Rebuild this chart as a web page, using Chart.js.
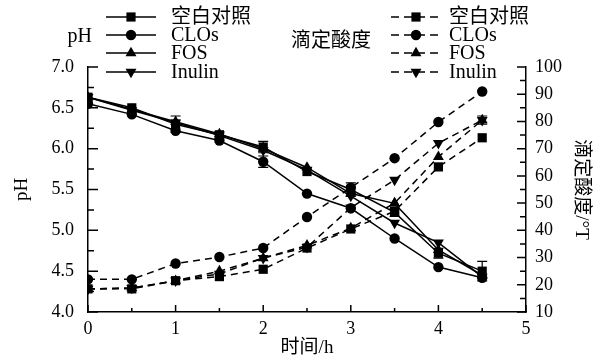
<!DOCTYPE html>
<html lang="zh">
<head>
<meta charset="UTF-8">
<title>pH 与滴定酸度</title>
<script src="https://cdn.jsdelivr.net/npm/chart.js"></script>
<style>
  html, body { margin: 0; padding: 0; background: #fff; }
  #wrap { width: 603px; height: 360px; }
</style>
</head>
<body>
<div id="wrap"><canvas id="myChart" width="603" height="360"></canvas></div>
<script>
// time points (h)
var times = [0, 0.5, 1, 1.5, 2, 2.5, 3, 3.5, 4, 4.5];
var groups = ['空白对照', 'CLOs', 'FOS', 'Inulin'];
var markers = ['rect', 'circle', 'triangle', 'triangle'];
var markerRot = [0, 0, 0, 180];
var markerSize = [6.5, 5.2, 6.3, 6.3];

// pH (left axis)
var phBlank  = [6.63, 6.50, 6.30, 6.17, 6.02, 5.72, 5.50, 5.22, 4.72, 4.50];
var phCLOs   = [6.55, 6.42, 6.22, 6.10, 5.84, 5.45, 5.27, 4.90, 4.55, 4.42];
var phFOS    = [6.63, 6.48, 6.33, 6.18, 6.00, 5.77, 5.45, 5.33, 4.76, 4.45];
var phInulin = [6.63, 6.47, 6.32, 6.16, 5.98, 5.74, 5.42, 5.09, 4.85, 4.43];
var phBlankErr = [0, 0, 0.1, 0.04, 0.07, 0, 0.08, 0.05, 0.06, 0.12];
var phCLOsErr  = [0, 0, 0, 0, 0.07, 0, 0, 0, 0, 0];

// titratable acidity (right axis, °T)
var taBlank  = [18.5, 18.5, 21.5, 23.0, 25.7, 33.5, 40.5, 47.0, 63.3, 74.0];
var taCLOs   = [22.0, 22.0, 27.8, 30.2, 33.5, 44.9, 55.7, 66.5, 79.8, 91.0];
var taFOS    = [18.5, 18.8, 21.5, 25.0, 29.8, 34.5, 40.8, 50.0, 67.0, 80.5];
var taInulin = [18.5, 18.8, 21.5, 24.0, 29.8, 33.8, 48.3, 58.5, 72.0, 80.5];
var taInulinErr = [0, 0, 0, 0, 0, 0, 0, 0, 0, 1.5];

var phTicks = [4.0, 4.5, 5.0, 5.5, 6.0, 6.5, 7.0];
var taTicks = [10, 20, 30, 40, 50, 60, 70, 80, 90, 100];

var FONT = "'Liberation Serif', 'Noto Sans CJK SC', serif";

function pts(ys) {
    return times.map(function(t, i) { return {x: t, y: ys[i]}; });
}

var phSets = [phBlank, phCLOs, phFOS, phInulin];
var taSets = [taBlank, taCLOs, taFOS, taInulin];
var phErrs = [phBlankErr, phCLOsErr, null, null];
var taErrs = [null, null, null, taInulinErr];

var datasets = [];
for (var i = 0; i < 4; i++) {
    datasets.push({
        label: groups[i], data: pts(phSets[i]), yAxisID: 'y', err: phErrs[i],
        borderColor: '#000', backgroundColor: '#000', borderWidth: 1.5,
        pointStyle: markers[i], pointRotation: markerRot[i], pointRadius: markerSize[i],
        pointBorderWidth: 0, tension: 0, fill: false
    });
}
for (var i = 0; i < 4; i++) {
    datasets.push({
        label: groups[i], data: pts(taSets[i]), yAxisID: 'y1', err: taErrs[i],
        borderColor: '#000', backgroundColor: '#000', borderWidth: 1.5, borderDash: [7, 5],
        pointStyle: markers[i], pointRotation: markerRot[i], pointRadius: markerSize[i],
        pointBorderWidth: 0, tension: 0, fill: false
    });
}

// inward ticks, error bars and the two hand-placed legends
var decor = {
    id: 'decor',
    afterDatasetsDraw: function(chart) {
        var ctx = chart.ctx;
        ctx.save();
        ctx.strokeStyle = '#000';
        ctx.lineWidth = 1.2;
        chart.data.datasets.forEach(function(ds) {
            if (!ds.err) return;
            var ys = chart.scales[ds.yAxisID];
            ds.data.forEach(function(p, k) {
                var e = ds.err[k];
                if (!e) return;
                var x = chart.scales.x.getPixelForValue(p.x);
                var y0 = ys.getPixelForValue(p.y - e), y1 = ys.getPixelForValue(p.y + e);
                ctx.beginPath();
                ctx.moveTo(x, y0); ctx.lineTo(x, y1);
                ctx.moveTo(x - 5, y0); ctx.lineTo(x + 5, y0);
                ctx.moveTo(x - 5, y1); ctx.lineTo(x + 5, y1);
                ctx.stroke();
            });
        });
        ctx.restore();
    },
    afterDraw: function(chart) {
        var ctx = chart.ctx, a = chart.chartArea;
        var sx = chart.scales.x, sy = chart.scales.y, sy1 = chart.scales.y1;
        ctx.save();
        ctx.strokeStyle = '#000';
        ctx.lineWidth = 1.5;
        ctx.beginPath();
        for (var v = 0; v <= 5.001; v += 0.5) {
            var x = sx.getPixelForValue(v);
            var len = Math.abs(v - Math.round(v)) < 0.01 ? 7 : 4;
            ctx.moveTo(x, a.bottom); ctx.lineTo(x, a.bottom - len);
        }
        for (var v = 4; v <= 7.001; v += 0.25) {
            var y = sy.getPixelForValue(v);
            var len = Math.abs(v * 2 - Math.round(v * 2)) < 0.01 ? 10 : 6;
            ctx.moveTo(a.left, y); ctx.lineTo(a.left + len, y);
        }
        for (var v = 10; v <= 100; v += 5) {
            var y = sy1.getPixelForValue(v);
            var len = v % 10 === 0 ? 9 : 6;
            ctx.moveTo(a.right, y); ctx.lineTo(a.right - len, y);
        }
        ctx.stroke();

        // legends
        var rows = [17, 35, 53, 72];
        ctx.fillStyle = '#000';
        ctx.font = '20px ' + FONT;
        ctx.textBaseline = 'middle';
        ctx.textAlign = 'right';
        ctx.fillText('pH', 92, 37);
        ctx.fillText('滴定酸度', 371, 42);
        ctx.textAlign = 'left';
        for (var i = 0; i < 4; i++) {
            var y = rows[i];
            ctx.lineWidth = 1.5;
            ctx.setLineDash([]);
            ctx.beginPath(); ctx.moveTo(106, y); ctx.lineTo(156, y); ctx.stroke();
            Chart.helpers.drawPoint(ctx, {pointStyle: markers[i], rotation: markerRot[i], radius: markerSize[i], borderWidth: 0}, 131, y);
            ctx.fillText(groups[i], 171, y + 1);

            ctx.setLineDash([8, 5]);
            ctx.beginPath(); ctx.moveTo(391, y); ctx.lineTo(441, y); ctx.stroke();
            ctx.setLineDash([]);
            Chart.helpers.drawPoint(ctx, {pointStyle: markers[i], rotation: markerRot[i], radius: markerSize[i], borderWidth: 0}, 416, y);
            ctx.fillText(groups[i], 449, y + 1);
        }
        ctx.restore();
    }
};

var ctx = document.getElementById('myChart').getContext('2d');
var myChart = new Chart(ctx, {
    type: 'line',
    data: { datasets: datasets },
    plugins: [decor],
    options: {
        responsive: false,
        animation: false,
        layout: { padding: { top: 67, left: 0, right: 0, bottom: 0 } },
        plugins: { legend: { display: false }, tooltip: { enabled: false } },
        scales: {
            x: {
                type: 'linear', min: 0, max: 5,
                grid: { display: false, drawTicks: false },
                border: { display: true, color: '#000', width: 1.5 },
                ticks: { stepSize: 1, color: '#000', padding: 6, font: { family: FONT, size: 18 } },
                title: { display: true, text: '时间/h', color: '#000', padding: { top: 0, bottom: 1 }, font: { family: FONT, size: 19 } },
                afterFit: function(s) { s.height = 48; }
            },
            y: {
                position: 'left', min: 4, max: 7,
                grid: { display: false, drawTicks: false },
                border: { display: true, color: '#000', width: 1.5 },
                afterBuildTicks: function(s) { s.ticks = phTicks.map(function(v) { return {value: v}; }); },
                ticks: { color: '#000', padding: 14, font: { family: FONT, size: 18 },
                    callback: function(v) { return Number(v).toFixed(1); } },
                title: { display: true, text: 'pH', color: '#000', padding: { top: 11, bottom: 0 }, font: { family: FONT, size: 19 } },
                afterFit: function(s) { s.width = 88; }
            },
            y1: {
                position: 'right', min: 10, max: 100,
                grid: { display: false, drawTicks: false },
                border: { display: true, color: '#000', width: 1.5 },
                afterBuildTicks: function(s) { s.ticks = taTicks.map(function(v) { return {value: v}; }); },
                ticks: { color: '#000', padding: 9, font: { family: FONT, size: 18 } },
                title: { display: true, text: '滴定酸度/°T', color: '#000', padding: { top: 11, bottom: 0 }, font: { family: FONT, size: 19 } },
                afterFit: function(s) { s.width = 77; }
            }
        }
    }
});
</script>
</body>
</html>
